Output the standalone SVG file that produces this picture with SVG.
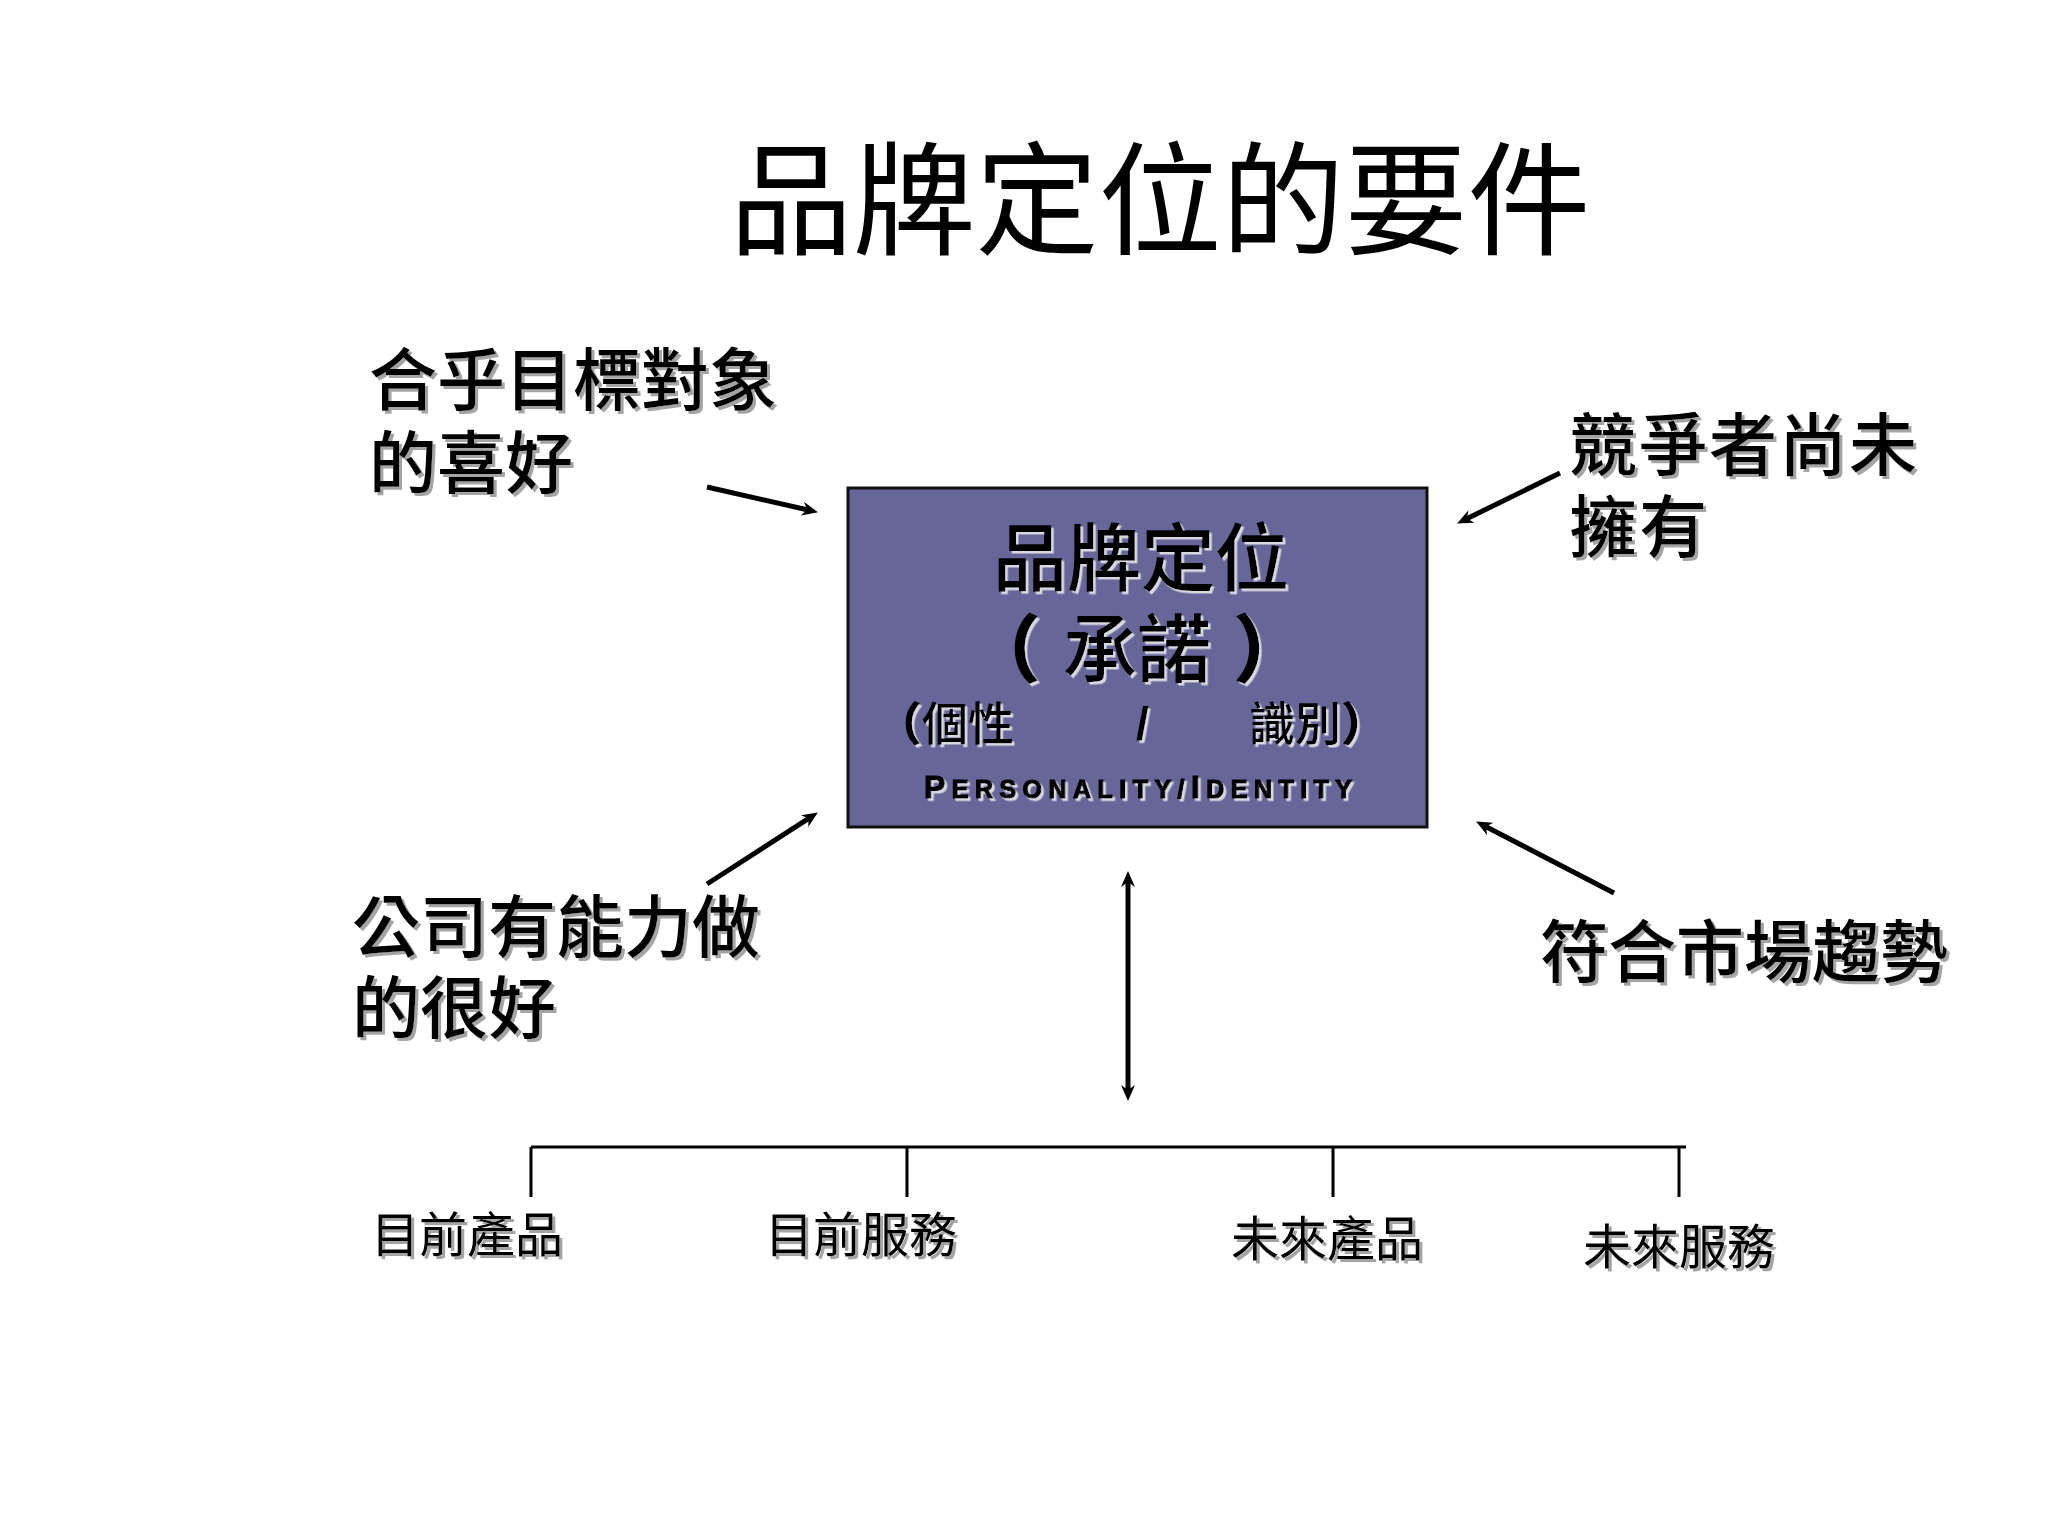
<svg xmlns="http://www.w3.org/2000/svg" width="2048" height="1536" viewBox="0 0 2048 1536">
<defs>
<style>
.cjk{font-family:"Noto Sans CJK TC","Noto Sans CJK SC",sans-serif;fill:#000}
.lbl{font-size:68px;font-weight:500;filter:url(#sh)}
.small{font-size:48px;filter:url(#sh)}
.inbox{filter:url(#shl)}
.conn{stroke:#000;stroke-width:5;fill:none}
.tree{stroke:#000;stroke-width:3;fill:none}
.lat{font-family:"Liberation Sans",Arial,sans-serif;font-weight:bold;fill:#000}
</style>
<filter id="sh" x="-5%" y="-20%" width="110%" height="140%">
<feDropShadow dx="3" dy="3" stdDeviation="0.6" flood-color="#9a9a9a" flood-opacity="0.9"/>
</filter>
<filter id="shl" x="-5%" y="-20%" width="110%" height="140%">
<feDropShadow dx="2.5" dy="2.5" stdDeviation="0.4" flood-color="#d8d8e0" flood-opacity="1"/>
</filter>
<marker id="ah" markerUnits="userSpaceOnUse" markerWidth="16" markerHeight="14" refX="7" refY="7" orient="auto-start-reverse" viewBox="0 0 16 14">
<path d="M0,0 L16,7 L0,14 L5,7 Z" fill="#000"/>
</marker>
</defs>
<rect width="2048" height="1536" fill="#fff"/>

<g id="title">
<text class="cjk" x="1160" y="245" font-size="123" text-anchor="middle">品牌定位的要件</text>
</g>

<g id="node-center">
<rect x="848" y="488" width="579" height="339" fill="#666699" stroke="#111" stroke-width="3"/>
<g class="inbox">
<text class="cjk" x="1141" y="585" font-size="74" font-weight="500" text-anchor="middle">品牌定位</text>
<text class="cjk" x="967" y="676" font-size="74" font-weight="500"><tspan font-weight="900">（</tspan><tspan x="1063">承諾</tspan><tspan x="1233" font-weight="900">）</tspan></text>
<text class="cjk" x="876" y="740" font-size="46" font-weight="500"><tspan font-weight="900">（</tspan>個性<tspan class="lat" x="1136">/</tspan><tspan x="1249">識別</tspan><tspan font-weight="900">）</tspan></text>
<text class="lat" x="924" y="798" textLength="428" lengthAdjust="spacing" stroke="#000" stroke-width="1.2"><tspan font-size="32">P</tspan><tspan font-size="25">ERSONALITY/</tspan><tspan font-size="32">I</tspan><tspan font-size="25">DENTITY</tspan></text>
</g>
</g>

<g id="node-target">
<text class="cjk lbl" x="369" y="405">合乎目標對象<tspan x="369" dy="83">的喜好</tspan></text>
</g>
<g id="node-competitor">
<text class="cjk lbl" x="1569" y="470" letter-spacing="2">競爭者尚未<tspan x="1569" dy="82">擁有</tspan></text>
</g>
<g id="node-capability">
<text class="cjk lbl" x="352" y="952">公司有能力做<tspan x="352" dy="81">的很好</tspan></text>
</g>
<g id="node-trend">
<text class="cjk lbl" x="1540" y="977" font-size="67">符合市場趨勢</text>
</g>

<g id="node-p1"><text class="cjk small" x="371" y="1252">目前產品</text></g>
<g id="node-s1"><text class="cjk small" x="765" y="1252">目前服務</text></g>
<g id="node-p2"><text class="cjk small" x="1231" y="1256">未來產品</text></g>
<g id="node-s2"><text class="cjk small" x="1583" y="1264">未來服務</text></g>

<g id="connectors">
<line class="conn" x1="707" y1="487" x2="809.2" y2="510.2" marker-end="url(#ah)"/>
<line class="conn" x1="1560" y1="473" x2="1465.2" y2="519.5" marker-end="url(#ah)"/>
<line class="conn" x1="707" y1="884" x2="810.3" y2="817.3" marker-end="url(#ah)"/>
<line class="conn" x1="1614" y1="893" x2="1484.1" y2="825.7" marker-end="url(#ah)"/>
<line class="conn" x1="1128" y1="880" x2="1128" y2="1092" marker-start="url(#ah)" marker-end="url(#ah)"/>
<path class="tree" d="M531,1147 H1686 M531,1147 V1197 M907,1147 V1197 M1333,1147 V1197 M1679,1147 V1197"/>
</g>
</svg>
